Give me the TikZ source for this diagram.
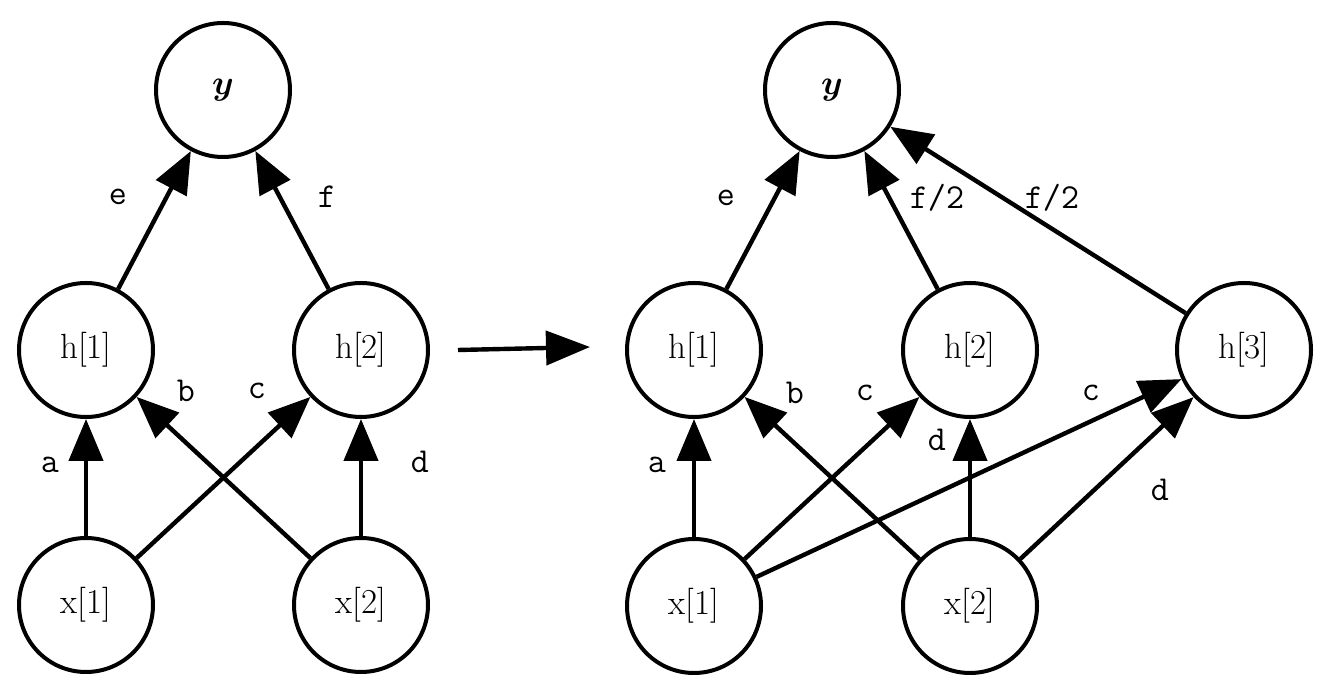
\documentclass[tikz,border=0pt]{standalone}
\usepackage{bm}
\usetikzlibrary{arrows.meta}
\begin{document}
\begin{tikzpicture}[x=0.5pt,y=-0.5pt,
  neuron/.style={circle,draw,line width=2pt,minimum size=67pt,inner sep=0pt,font=\fontsize{17.5}{20}\selectfont},
  edge/.style={line width=2.2pt,-{Triangle[length=21pt,width=17pt]}},
  lbl/.style={font=\fontsize{17.5}{20}\selectfont\ttfamily,inner sep=0pt}]
\useasboundingbox (0,0) rectangle (1334,688);
% left network
\node[neuron] (Ly)  at (223,90)  {$\bm{y}$};
\node[neuron] (Lh1) at (86,350)  {h[1]};
\node[neuron] (Lh2) at (361,350) {h[2]};
\node[neuron] (Lx1) at (86,605)  {x[1]};
\node[neuron] (Lx2) at (361,605) {x[2]};
\draw[edge] (Lh1) -- (Ly);
\draw[edge] (Lh2) -- (Ly);
\draw[edge] (Lx1) -- (Lh1);
\draw[edge] (Lx2) -- (Lh1);
\draw[edge] (Lx1) -- (Lh2);
\draw[edge] (Lx2) -- (Lh2);
\node[lbl] (Le) at (118,197) {e};
\node[lbl] (Lf) at (327,197) {f};
\node[lbl] (La) at (50,465)  {a};
\node[lbl] (Lb) at (186,391) {b};
\node[lbl] (Lc) at (257,391) {c};
\node[lbl] (Ld) at (420,462) {d};
% transition arrow
\coordinate (As) at (458,350);
\coordinate (Ae) at (590,347);
\draw[line width=2.2pt,-{Triangle[length=22pt,width=17pt]}] (As) -- (Ae);
% right network
\node[neuron] (Ry)  at (832,90)   {$\bm{y}$};
\node[neuron] (Rh1) at (694,350)  {h[1]};
\node[neuron] (Rh2) at (970,350)  {h[2]};
\node[neuron] (Rh3) at (1244,350) {h[3]};
\node[neuron] (Rx1) at (694,606)  {x[1]};
\node[neuron] (Rx2) at (970,606)  {x[2]};
\draw[edge] (Rh1) -- (Ry);
\draw[edge] (Rh2) -- (Ry);
\draw[edge] (Rh3) -- (Ry);
\draw[edge] (Rx1) -- (Rh1);
\draw[edge] (Rx2) -- (Rh1);
\draw[edge] (Rx1) -- (Rh2);
\draw[edge] (Rx2) -- (Rh2);
\draw[edge] (Rx1) -- (Rh3);
\draw[edge] (Rx2) -- (Rh3);
\node[lbl] (Re)  at (726,198)  {e};
\node[lbl] (Rf1) at (937,198)  {f/2};
\node[lbl] (Rf2) at (1052,198) {f/2};
\node[lbl] (Ra)  at (657,465)  {a};
\node[lbl] (Rb)  at (795,393)  {b};
\node[lbl] (Rc1) at (865,393)  {c};
\node[lbl] (Rd1) at (937,440)  {d};
\node[lbl] (Rc2) at (1091,393) {c};
\node[lbl] (Rd2) at (1160,490) {d};
\end{tikzpicture}
\end{document}
